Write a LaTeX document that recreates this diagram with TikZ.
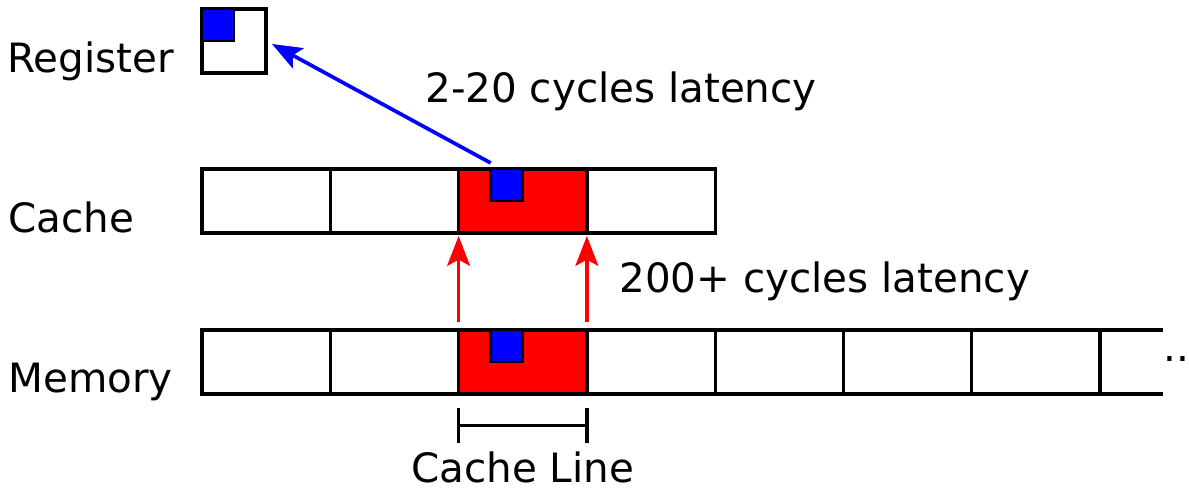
\documentclass[tikz,border=0pt]{standalone}
\usepackage{fontspec}
\setmainfont{DejaVu Sans}
\usetikzlibrary{arrows.meta}

\begin{document}
\begin{tikzpicture}[
  x=0.02cm, y=-0.02cm,
  >={Stealth[length=17pt,width=13pt,inset=3.5pt]},
  font=\fontsize{23}{27}\selectfont,
  cell/.style={rectangle,draw,line width=1.9pt,minimum width=2.566cm,minimum height=1.28cm,inner sep=0,outer sep=0,anchor=north west},
  word/.style={rectangle,draw,line width=1.5pt,fill=blue,minimum size=0.64cm,inner sep=0,outer sep=0},
  txt/.style={anchor=base west,inner sep=0},
]
  \useasboundingbox (0,0) rectangle (1189,492);

  % register
  \node[cell, minimum width=1.28cm] (reg) at (202,9) {};
  \node[word, anchor=north west] (rw) at (reg.north west) {};

  % cache and memory rows
  \foreach \i/\x/\fillcol in {1/202/white, 2/330.3/white, 3/458.6/red, 4/586.9/white}
    \node[cell, fill=\fillcol] (c\i) at (\x, 169) {};
  \foreach \i/\x/\fillcol in {1/202/white, 2/330.3/white, 3/458.6/red, 4/586.9/white, 5/715.2/white, 6/843.5/white, 7/971.8/white}
    \node[cell, fill=\fillcol] (m\i) at (\x, 330) {};
  \node[word, anchor=north east] (cw) at (c3.north) {};
  \node[word, anchor=north east] (mw) at (m3.north) {};

  \coordinate (mtop) at (1163, 330);
  \coordinate (mbot) at (mtop |- m7.south east);
  \draw[line width=1.9pt] (m7.north east) -- (mtop);
  \draw[line width=1.9pt] (m7.south east) -- (mbot);
  \node[txt] (dots) at (1163, 362) {..};

  % labels
  \node[txt] (lreg) at (7, 73) {Register};
  \node[txt] (lcache) at (8, 233) {Cache};
  \node[txt] (lmem) at (8, 393) {Memory};
  \node[txt] (lat1) at (425, 103) {2-20 cycles latency};
  \node[txt] (lat2) at (619, 293) {200+ cycles latency};

  % loads
  \draw[->, blue, line width=2.1pt] ([yshift=0.12cm]cw.north west) -- ([xshift=0.12cm, yshift=-0.06cm]reg.east);
  \foreach \a in {west, east}
    \draw[->, red, line width=1.9pt] ([yshift=0.16cm]m3.north \a) -- ([yshift=-0.06cm]c3.south \a);

  % cache line
  \coordinate (cla) at (458.6, 425.5);
  \coordinate (clb) at (586.9, 425.5);
  \draw[line width=1.9pt] (cla) -- (clb);
  \foreach \p in {cla, clb}
    \draw[line width=1.9pt] ([yshift=0.35cm]\p) -- ([yshift=-0.35cm]\p);
  \node[anchor=base, inner sep=0] (lline) at (522.75, 483) {Cache Line};
\end{tikzpicture}
\end{document}
